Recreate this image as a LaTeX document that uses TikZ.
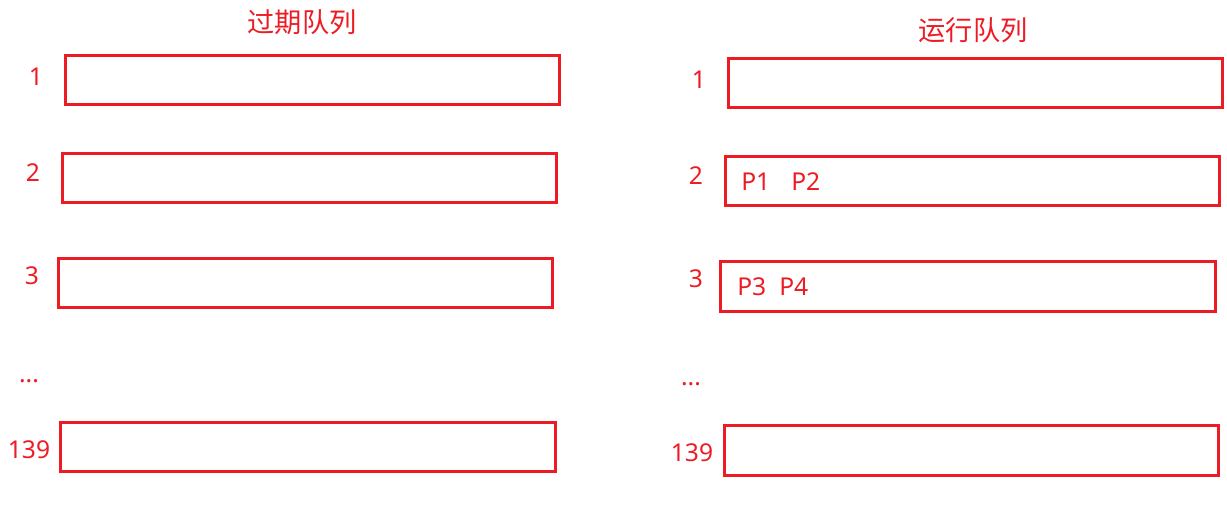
\documentclass[tikz,border=0pt]{standalone}
\usepackage{fontspec}
\setmainfont{Noto Sans}
\newfontfamily\cjk{Noto Sans CJK SC}
\usepackage{tikz}
\definecolor{qred}{HTML}{ED1C24}

\tikzset{
  qbox/.style={draw=qred, line width=0.06cm, minimum width=9.9cm, minimum height=1cm, inner sep=0pt},
  qnum/.style={text=qred, font=\fontsize{14pt}{16pt}\selectfont},
  qtitle/.style={text=qred, font=\cjk\fontsize{15.5pt}{18pt}\selectfont}
}

\begin{document}
\begin{tikzpicture}[x=0.02cm, y=-0.02cm]
  \useasboundingbox (0,0) rectangle (1227,517);

  % expired queue
  \draw (302,22) node[qtitle] (expired) {过期队列};
  \draw (312.5,80) node[qbox] (e1) {};
     \draw (36,77) node[qnum] (e1num) {1};
  \draw (309.5,178) node[qbox] (e2) {};
     \draw (33,173) node[qnum] (e2num) {2};
  \draw (305.5,283) node[qbox] (e3) {};
     \draw (32,276) node[qnum] (e3num) {3};
  \draw (29,381) node[qnum] (edots) {...};
  \draw (308,447) node[qbox] (e139) {};
     \draw (29,450) node[qnum] (e139num) {139};

  % run queue
  \draw (973,30) node[qtitle] (active) {运行队列};
  \draw (975.5,83) node[qbox] (a1) {};
     \draw (699,80) node[qnum] (a1num) {1};
  \draw (972.5,181) node[qbox] (a2) {};
     \draw (696,176) node[qnum] (a2num) {2};
     \draw (741,182) node[qnum,anchor=west,inner sep=0pt] (p1) {P1};
     \draw (791,182) node[qnum,anchor=west,inner sep=0pt] (p2) {P2};
  \draw (968,286.5) node[qbox] (a3) {};
     \draw (696,279) node[qnum] (a3num) {3};
     \draw (737,287) node[qnum,anchor=west,inner sep=0pt] (p3) {P3};
     \draw (779,287) node[qnum,anchor=west,inner sep=0pt] (p4) {P4};
  \draw (691,384) node[qnum] (adots) {...};
  \draw (971.5,450.5) node[qbox] (a139) {};
     \draw (692,453) node[qnum] (a139num) {139};

\end{tikzpicture}
\end{document}
